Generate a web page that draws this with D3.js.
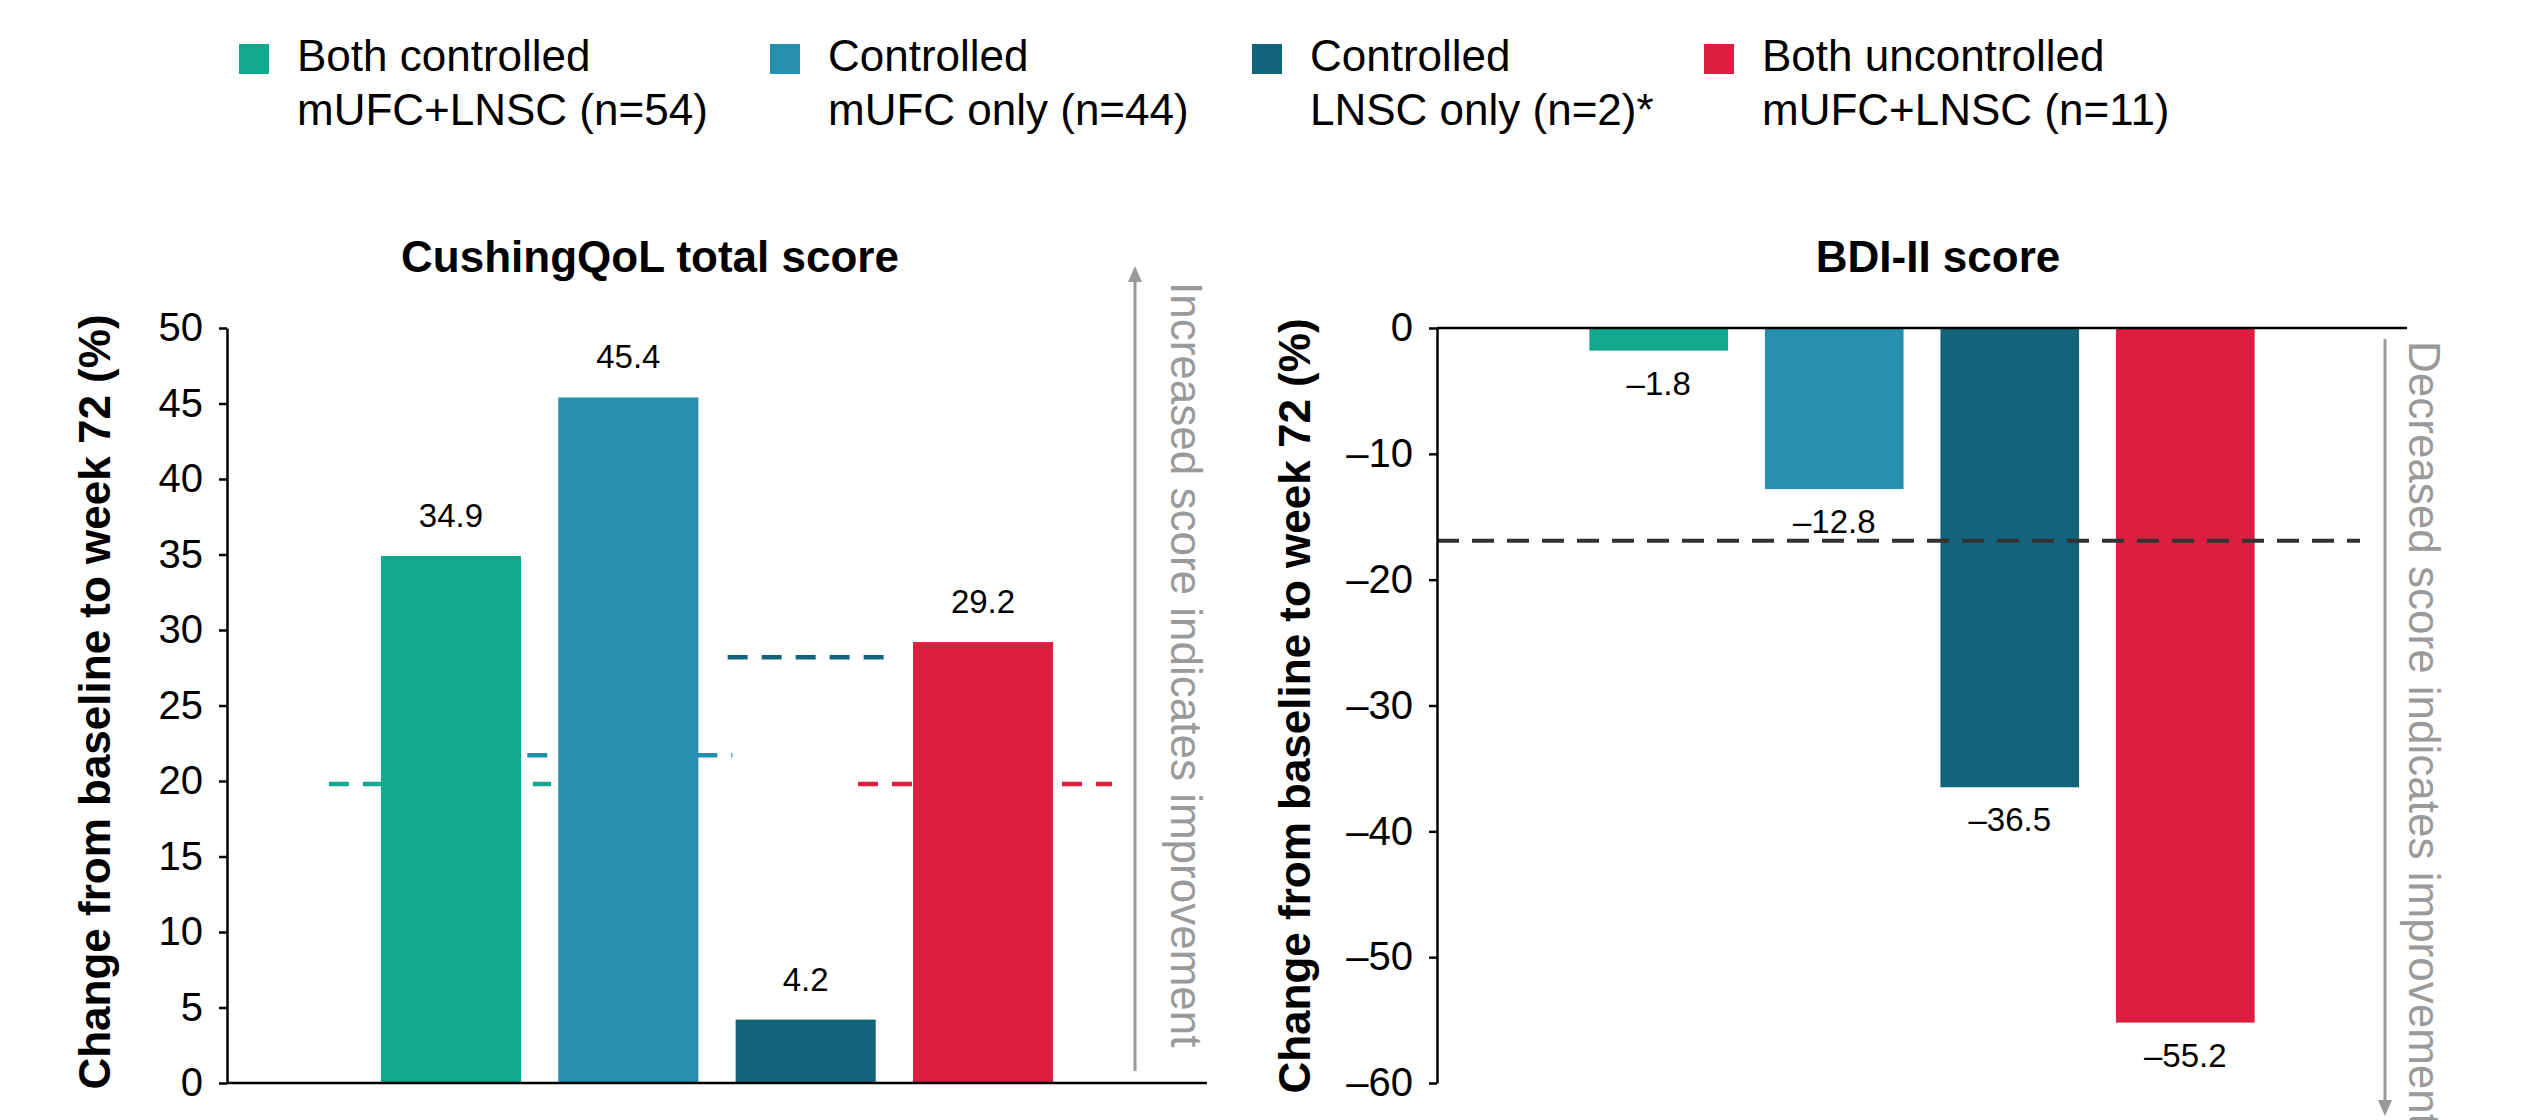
<!DOCTYPE html>
<html>
<head>
<meta charset="utf-8">
<script src="https://cdn.jsdelivr.net/npm/d3@7"></script>
<style>
  body { margin: 0; background: #fff; }
  svg { display: block; }
  text { font-family: "Liberation Sans", Arial, Helvetica, sans-serif; }
</style>
</head>
<body>
<svg id="chart" width="2528" height="1120"></svg>
<script>
// ---- data ----
const groups = ["bothControlled", "mufcOnly", "lnscOnly", "bothUncontrolled"];
const legendLines = [
  ["Both controlled", "mUFC+LNSC (n=54)"],
  ["Controlled", "mUFC only (n=44)"],
  ["Controlled", "LNSC only (n=2)*"],
  ["Both uncontrolled", "mUFC+LNSC (n=11)"]
];
const colors = ["#10a88e", "#2590ad", "#13647a", "#dc1f41"];

const qolValues = [34.9, 45.4, 4.2, 29.2];      // CushingQoL % change
const qolRefValues = [19.8, 21.7, 28.2, 19.8];  // dashed reference per group
const qolTicks = [0, 5, 10, 15, 20, 25, 30, 35, 40, 45, 50];

const bdiValues = [-1.8, -12.8, -36.5, -55.2];  // BDI-II % change
const bdiRefValue = -16.9;                      // dashed reference, all groups
const bdiTicks = [0, -10, -20, -30, -40, -50, -60];

// ---- layout ----
const W = 2528, H = 1120;
const plotTop = 328, plotBottom = 1083;
const legendX = [239, 770, 1252, 1704];
const refOverhang = [[52, 30], [31, 34], [8, 8], [55, 59]];

const svg = d3.select("#chart");
const fmt = v => d3.format(".1f")(v).replace(/[-\u2212]/, "\u2013");
const tickFmt = v => String(v).replace("-", "\u2013");

// ---- legend ----
const legend = svg.append("g");
groups.forEach((g, i) => {
  const item = legend.append("g").attr("transform", `translate(${legendX[i]},0)`);
  item.append("rect").attr("x", 0).attr("y", 44).attr("width", 30).attr("height", 30)
    .attr("fill", colors[i]);
  item.append("text").attr("x", 58).attr("y", 71).attr("font-size", 44).text(legendLines[i][0]);
  item.append("text").attr("x", 58).attr("y", 125).attr("font-size", 44).text(legendLines[i][1]);
});

function drawPanel(opts) {
  const g = svg.append("g");
  const x = d3.scaleBand().domain(groups).range([opts.left, opts.right])
    .paddingInner(0.21).paddingOuter(0.868);
  const y = d3.scaleLinear().domain(opts.domain).range([plotBottom, plotTop]);

  // reference dashed lines (drawn first so bars cover them)
  if (opts.refs) {
    g.selectAll("line.ref").data(groups).join("line")
      .attr("x1", (d, i) => x(d) - refOverhang[i][0])
      .attr("x2", (d, i) => x(d) + x.bandwidth() + refOverhang[i][1])
      .attr("y1", (d, i) => y(opts.refs[i]))
      .attr("y2", (d, i) => y(opts.refs[i]))
      .attr("stroke", (d, i) => colors[i])
      .attr("stroke-width", 4.5)
      .attr("stroke-dasharray", "20 14");
  }

  // bars
  g.selectAll("rect.bar").data(groups).join("rect")
    .attr("x", d => x(d))
    .attr("width", x.bandwidth())
    .attr("y", (d, i) => Math.min(y(opts.values[i]), y(0)))
    .attr("height", (d, i) => Math.abs(y(opts.values[i]) - y(0)))
    .attr("fill", (d, i) => colors[i]);

  // single reference line across the panel
  if (opts.refValue !== undefined) {
    g.append("line")
      .attr("x1", opts.left).attr("x2", opts.refEnd)
      .attr("y1", y(opts.refValue)).attr("y2", y(opts.refValue))
      .attr("stroke", "#333").attr("stroke-width", 4)
      .attr("stroke-dasharray", "22 13");
  }

  // value labels
  g.selectAll("text.val").data(groups).join("text")
    .attr("x", d => x(d) + x.bandwidth() / 2)
    .attr("y", (d, i) => opts.values[i] >= 0 ? y(opts.values[i]) - 29 : y(opts.values[i]) + 44)
    .attr("text-anchor", "middle")
    .attr("font-size", 33)
    .text((d, i) => fmt(opts.values[i]));

  // y axis
  const ax = g.append("g").attr("transform", `translate(${opts.left},0)`)
    .call(d3.axisLeft(y).tickValues(opts.ticks).tickFormat(tickFmt)
      .tickSize(8).tickSizeOuter(0).tickPadding(16));
  ax.select(".domain").attr("stroke", "#000").attr("stroke-width", 2.5);
  ax.selectAll(".tick line").attr("stroke", "#000").attr("stroke-width", 2.5);
  ax.selectAll(".tick text").attr("font-size", 40).attr("fill", "#000")
    .attr("font-family", "'Liberation Sans', Arial, sans-serif");

  // category baseline at zero
  g.append("line").attr("x1", opts.left).attr("x2", opts.right)
    .attr("y1", y(0)).attr("y2", y(0)).attr("stroke", "#000").attr("stroke-width", 2.5);

  // panel title
  g.append("text").attr("x", opts.titleX).attr("y", 272).attr("text-anchor", "middle")
    .attr("font-size", 44).attr("font-weight", "bold").text(opts.title);

  // y axis title
  g.append("text")
    .attr("transform", `translate(${opts.yTitleX},${opts.yTitleY}) rotate(-90)`)
    .attr("text-anchor", "middle").attr("font-size", 44).attr("font-weight", "bold")
    .text("Change from baseline to week 72 (%)");

  // direction arrow with note
  const a = opts.arrow;
  g.append("line").attr("x1", a.x).attr("x2", a.x).attr("y1", a.y1).attr("y2", a.y2)
    .attr("stroke", "#999").attr("stroke-width", 3);
  const tipY = a.up ? a.y1 - 14 : a.y2 + 14;
  const baseY = a.up ? a.y1 + 2 : a.y2 - 2;
  g.append("path")
    .attr("d", `M${a.x},${tipY} L${a.x - 7},${baseY} L${a.x + 7},${baseY} Z`)
    .attr("fill", "#999");
  g.append("text")
    .attr("transform", `translate(${a.textX},${a.textY}) rotate(90)`)
    .attr("font-size", 44).attr("fill", "#9a9a9a")
    .text(a.note);
}

drawPanel({
  left: 227, right: 1207, domain: [0, 50], ticks: qolTicks,
  values: qolValues, refs: qolRefValues,
  title: "CushingQoL total score", titleX: 650,
  yTitleX: 110, yTitleY: 702,
  arrow: { x: 1135, y1: 280, y2: 1071, up: true, textX: 1171, textY: 282,
           note: "Increased score indicates improvement" }
});

drawPanel({
  left: 1437, right: 2407, domain: [-60, 0], ticks: bdiTicks,
  values: bdiValues, refValue: bdiRefValue, refEnd: 2360,
  title: "BDI-II score", titleX: 1938,
  yTitleX: 1310, yTitleY: 706,
  arrow: { x: 2385, y1: 339, y2: 1102, up: false, textX: 2409, textY: 341,
           note: "Decreased score indicates improvement" }
});
</script>
</body>
</html>
